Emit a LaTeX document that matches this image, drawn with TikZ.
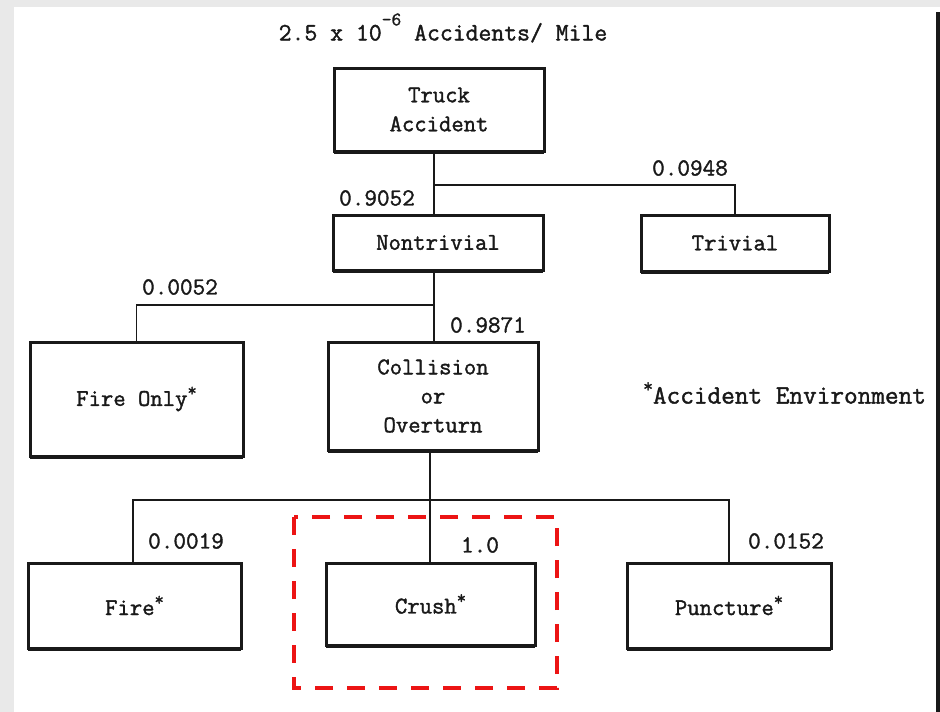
\documentclass[tikz,border=0pt]{standalone}
\usepackage{fontspec}
\newfontfamily\tw{Latin Modern Mono}[FakeBold=1.5]
\definecolor{ink}{RGB}{25,25,25}
\definecolor{redbox}{RGB}{236,20,20}
\definecolor{bggray}{RGB}{233,233,233}
\newcommand{\envmark}{\raisebox{0.95ex}{\fontsize{18}{18}\selectfont *}}
\begin{document}
\begin{tikzpicture}[x=1pt,y=-1pt,
  every node/.style={font=\tw\fontsize{24}{29}\selectfont, text=ink},
  box/.style={draw=ink, line width=3pt, align=center, inner sep=0pt, outer sep=0pt},
  conn/.style={draw=ink, line width=1.8pt},
  prob/.style={inner sep=0pt, font=\tw\fontsize{24.5}{26}\selectfont},
  hl/.style={draw=redbox, line width=4pt, dash pattern=on 18pt off 14pt}]
\useasboundingbox (0,0) rectangle (940,712);
\fill[white] (0,0) rectangle (940,712);
\fill[bggray] (0,0) rectangle (940,7);
\fill[bggray] (0,0) rectangle (14,712);
\fill[ink] (936,12) rectangle (940,712);

% title
\node[font=\tw\fontsize{25}{27}\selectfont] (title) at (443,28) {2.5 x 10\raisebox{1.4ex}{\fontsize{19}{19}\selectfont -6} Accidents/ Mile};

% boxes
\node[box, minimum width=210pt, minimum height=83pt] (truck) at (439,109.5) {Truck\\Accident};
\node[box, minimum width=210pt, minimum height=55pt] (nontriv) at (438,242.5) {Nontrivial};
\node[box, minimum width=188pt, minimum height=56pt] (trivial) at (735,243) {Trivial};
\node[box, minimum width=213pt, minimum height=114pt] (fireonly) at (136.5,399) {Fire Only\envmark};
\node[box, minimum width=210pt, minimum height=108pt] (collision) at (433,396) {Collision\\or\\Overturn};
\node[box, minimum width=213pt, minimum height=85pt] (fire) at (134.5,605.5) {Fire\envmark};
\node[box, minimum width=209pt, minimum height=82pt] (crush) at (430.5,604) {Crush\envmark};
\node[box, minimum width=204pt, minimum height=85pt] (puncture) at (729,605.5) {Puncture\envmark};

% heavier bottom edges
\foreach \n in {truck,nontriv,trivial,fireonly,collision,fire,crush,puncture}
  \draw[ink, line width=3pt] ([yshift=-1.5pt]\n.south west) -- ([yshift=-1.5pt]\n.south east);

% junctions
\coordinate (j1) at (434,185);
\coordinate (j2) at (434,305);
\coordinate (j3) at (430,500);

% connectors
\draw[conn] (truck.south -| j1) -- (nontriv.north -| j1);
\draw[conn] (j1) -| (trivial.north);
\draw[conn] (nontriv.south -| j2) -- (collision.north -| j2);
\draw[conn] (j2) -| (fireonly.north);
\draw[conn] (collision.south -| j3) -- (crush.north -| j3);
\draw[conn] (j3) -| ([xshift=-1.5pt]fire.north);
\draw[conn] (j3) -| (puncture.north);

% probabilities
\node[prob] (p1) at (377,198) {0.9052};
\node[prob] (p2) at (690,168) {0.0948};
\node[prob] (p3) at (180,287) {0.0052};
\node[prob] (p4) at (488,325) {0.9871};
\node[prob] (p5) at (186,541) {0.0019};
\node[prob] (p6) at (480,545) {1.0};
\node[prob] (p7) at (786,541) {0.0152};

% legend
\node[anchor=west, inner sep=0pt, font=\tw\fontsize{26.5}{28}\selectfont] (legend) at (643,393) {\raisebox{1.0ex}{\fontsize{19}{19}\selectfont *}Accident Environment};

% red dashed highlight
\draw[hl] (294,517) rectangle (557,688);
\end{tikzpicture}
\end{document}
